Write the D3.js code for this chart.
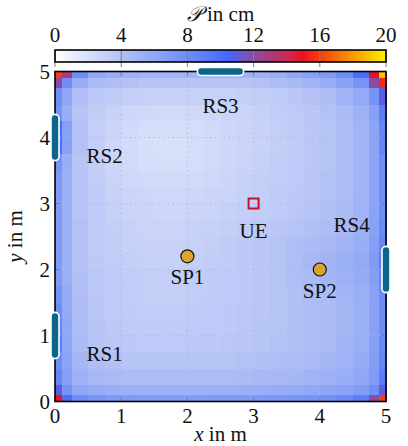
<!DOCTYPE html>
<html><head><meta charset="utf-8">
<script src="https://cdn.jsdelivr.net/npm/d3@7"></script>
<style>body{margin:0;background:#fff}svg{display:block}text{font-family:"Liberation Serif","DejaVu Serif",serif;fill:#111}</style>
</head><body><svg id="c" width="408" height="446"></svg>
<script>
// ---- data ----
const xEdges = [0,0.1,0.25,0.5,0.75,1,1.25,1.5,1.75,2,2.25,2.5,2.75,3,3.25,3.5,3.75,4,4.25,4.5,4.75,4.9,5];
const yEdges = [5,4.9,4.75,4.5,4.25,4,3.75,3.5,3.25,3,2.75,2.5,2.25,2,1.75,1.5,1.25,1,0.75,0.5,0.25,0.1,0];
const field = [
 [16,13,8,6,5.5,5.2,5,5,5,5,5,5,5,5.2,5.5,6,6.5,7,8,10,15,19],
 [12,8,5.5,4.5,4.2,4,3.8,3.8,3.8,3.8,3.8,3.8,3.9,4,4.3,4.6,5,5.5,6.3,7.5,12,15.5],
 [8,6,4.2,3.6,3.3,3.1,3,3,3,3,3,3,3.1,3.2,3.4,3.7,4,4.4,5,5.8,7.5,11],
 [7.5,5.5,3.8,3.2,2.9,2.6,2.5,2.4,2.4,2.5,2.6,2.7,2.8,3,3.2,3.4,3.7,4,4.5,5.2,6.5,9],
 [10,6.5,4,3.1,2.7,2.4,2.2,2.1,2.1,2.2,2.4,2.6,2.7,2.9,3.1,3.3,3.6,3.9,4.3,5,6.2,8.5],
 [10,6.5,4,3.1,2.6,2.3,2.1,2,2,2.2,2.4,2.6,2.7,2.9,3.1,3.3,3.6,3.9,4.3,5,6.2,8.5],
 [7.5,5.5,3.8,3.1,2.7,2.4,2.2,2.1,2.1,2.2,2.4,2.6,2.8,3,3.2,3.4,3.6,3.9,4.3,5,6.2,8],
 [7,5.3,3.8,3.2,2.8,2.5,2.4,2.3,2.3,2.4,2.5,2.7,2.9,3.1,3.2,3.4,3.7,4,4.3,5,6.2,8],
 [7,5.3,3.9,3.3,2.9,2.7,2.6,2.5,2.5,2.6,2.7,2.8,3,3.1,3.3,3.5,3.7,4,4.4,5,6.2,8],
 [7,5.3,3.9,3.3,3,2.8,2.7,2.6,2.6,2.7,2.8,3,3.1,3.2,3.4,3.6,3.8,4.1,4.5,5.1,6.3,8],
 [7,5.3,4,3.4,3.1,2.9,2.8,2.8,2.8,2.9,3,3.1,3.3,3.5,3.7,3.9,4.1,4.4,4.7,5.3,6.4,8.2],
 [7,5.3,4,3.4,3.2,3,2.9,2.9,2.9,3,3.1,3.3,3.5,3.7,3.9,4.2,4.5,4.7,5,5.5,6.6,8.5],
 [7,5.3,4,3.5,3.2,3.1,3,3,3,3.1,3.2,3.3,3.5,3.7,3.9,4.2,4.7,5,5.3,5.8,7,9],
 [7,5.4,4.1,3.6,3.3,3.2,3.1,3.1,3.1,3.2,3.3,3.4,3.5,3.7,3.9,4.2,4.5,4.9,5.2,5.6,6.6,8.5],
 [7.5,5.6,4.2,3.6,3.4,3.2,3.1,3.1,3.1,3.2,3.3,3.4,3.5,3.7,3.9,4.1,4.3,4.5,4.9,5.4,6.4,8],
 [8,5.8,4.3,3.7,3.4,3.3,3.2,3.2,3.2,3.3,3.4,3.5,3.6,3.7,3.9,4.1,4.3,4.5,4.8,5.3,6.4,8],
 [8.5,6,4.4,3.8,3.5,3.4,3.3,3.3,3.3,3.4,3.4,3.5,3.6,3.8,3.9,4.1,4.3,4.5,4.8,5.3,6.4,8],
 [9,6,4.5,3.9,3.6,3.5,3.4,3.4,3.4,3.5,3.5,3.6,3.7,3.8,4,4.1,4.3,4.5,4.9,5.4,6.5,8.2],
 [8,6.2,4.8,4.2,4,3.8,3.8,3.8,3.8,3.8,3.9,3.9,4,4.1,4.2,4.4,4.5,4.8,5.1,5.6,6.7,8.5],
 [8.5,6.6,5.2,4.7,4.5,4.3,4.3,4.3,4.3,4.3,4.4,4.4,4.5,4.6,4.7,4.8,5,5.2,5.5,6,7,9],
 [11,7.5,6,5.6,5.4,5.3,5.2,5.2,5.2,5.2,5.3,5.3,5.4,5.5,5.6,5.7,5.9,6.1,6.4,6.8,7.8,11],
 [15,10,8,7.3,7,6.9,6.8,6.8,6.8,6.8,6.9,6.9,7,7.1,7.2,7.3,7.5,7.8,8.2,9,12,16]
];
const axisTicks = [0,1,2,3,4,5];
const cbTicks = [0,4,8,12,16,20];
const cmapStops = [0,4,8,10.5,12,14,15,16,18,20];
const cmapColors = ["#ffffff","#b3c1f5","#6d8df7","#4466ff","#8c4aa2","#cc2a55","#ee1122","#f43e12","#fa9a00","#ffee00"];
const rsNames = ["RS1","RS2","RS3","RS4"];
const rsX = [0,0,2.5,5];
const rsY = [1,4,5,2];
const rsOrient = ["v","v","h","v"];
const rsLabelX = [0.75,0.75,2.5,4.48];
const rsLabelY = [0.72,3.72,4.48,2.68];
const spNames = ["SP1","SP2"];
const spX = [2,4];
const spY = [2.2,2];
const ueX = 3, ueY = 3;

// ---- layout ----
const FS = 21;
const svg = d3.select("#c");
const L=55, R=386, T=71.5, B=401.5;
const x = d3.scaleLinear().domain([0,5]).range([L,R]);
const y = d3.scaleLinear().domain([0,5]).range([B,T]);
const cmap = d3.scaleLinear().domain(cmapStops).range(cmapColors).clamp(true);

// heatmap
const cells = [];
field.forEach((row,i)=>row.forEach((v,j)=>cells.push({x0:xEdges[j],x1:xEdges[j+1],y0:yEdges[i],y1:yEdges[i+1],v})));
svg.append("g").selectAll("rect").data(cells).join("rect")
  .attr("x",d=>x(d.x0)).attr("width",d=>x(d.x1)-x(d.x0)+0.5)
  .attr("y",d=>y(d.y0)).attr("height",d=>y(d.y1)-y(d.y0)+0.5)
  .attr("fill",d=>cmap(d.v)).attr("shape-rendering","crispEdges");

// grid
const g = svg.append("g");
[1,2,3,4].forEach(v=>{
  g.append("line").attr("x1",x(v)).attr("x2",x(v)).attr("y1",T).attr("y2",B)
    .attr("stroke","#b8b8b8").attr("stroke-width",1).attr("stroke-dasharray","1.2,3.5");
  g.append("line").attr("y1",y(v)).attr("y2",y(v)).attr("x1",L).attr("x2",R)
    .attr("stroke","#b8b8b8").attr("stroke-width",1).attr("stroke-dasharray","1.2,3.5");
});
// inner ticks
axisTicks.forEach(v=>{
  [[x(v),B,x(v),B-5],[x(v),T,x(v),T+5],[L,y(v),L+5,y(v)],[R,y(v),R-5,y(v)]].forEach(c=>
    g.append("line").attr("x1",c[0]).attr("y1",c[1]).attr("x2",c[2]).attr("y2",c[3])
     .attr("stroke","#808080").attr("stroke-width",1));
});
// frame
svg.append("rect").attr("x",L).attr("y",T).attr("width",R-L).attr("height",B-T)
  .attr("fill","none").attr("stroke","#000").attr("stroke-width",1.6);

// tick labels
svg.append("g").selectAll("text").data(axisTicks).join("text")
  .attr("x",d=>x(d)).attr("y",B+21).attr("text-anchor","middle").attr("font-size",FS).text(d=>d);
svg.append("g").selectAll("text").data(axisTicks).join("text")
  .attr("x",L-5).attr("y",d=>y(d)+7).attr("text-anchor","end").attr("font-size",FS).text(d=>d);

// axis titles
const xt = svg.append("text").attr("x",(L+R)/2).attr("y",441).attr("text-anchor","middle").attr("font-size",FS);
xt.append("tspan").attr("font-style","italic").text("x");
xt.append("tspan").text("\u00a0in\u00a0m");
const yt = svg.append("text").attr("transform",`translate(22,${(T+B)/2}) rotate(-90)`).attr("text-anchor","middle").attr("font-size",FS);
yt.append("tspan").attr("font-style","italic").text("y");
yt.append("tspan").text("\u00a0in\u00a0m");

// RS bars
const rsLen = 0.7, rsW = 8;
rsNames.forEach((n,i)=>{
  const h = rsOrient[i]==="h";
  const x0 = h ? x(rsX[i]-rsLen/2) : x(rsX[i])-rsW/2;
  const y0 = h ? y(rsY[i])-rsW/2 : y(rsY[i]+rsLen/2);
  const w = h ? x(rsX[i]+rsLen/2)-x(rsX[i]-rsLen/2) : rsW;
  const hh = h ? rsW : y(rsY[i]-rsLen/2)-y(rsY[i]+rsLen/2);
  svg.append("rect").attr("x",x0).attr("y",y0).attr("width",w).attr("height",hh)
    .attr("rx",4).attr("fill","#0b6689").attr("stroke","#fff").attr("stroke-width",1.6);
  svg.append("text").attr("x",x(rsLabelX[i])).attr("y",y(rsLabelY[i])+7)
    .attr("text-anchor","middle").attr("font-size",FS).text(n);
});

// SPs
spNames.forEach((n,i)=>{
  svg.append("circle").attr("cx",x(spX[i])).attr("cy",y(spY[i])).attr("r",6.5)
    .attr("fill","#daa52c").attr("stroke","#111").attr("stroke-width",1.2);
  svg.append("text").attr("x",x(spX[i])).attr("y",y(spY[i])+28)
    .attr("text-anchor","middle").attr("font-size",FS).text(n);
});
// UE
svg.append("rect").attr("x",x(ueX)-5).attr("y",y(ueY)-5).attr("width",10).attr("height",10)
  .attr("fill","none").attr("stroke","#c8102e").attr("stroke-width",2);
svg.append("text").attr("x",x(ueX)).attr("y",y(ueY)+34).attr("text-anchor","middle").attr("font-size",FS).text("UE");

// colorbar
const cb = d3.scaleLinear().domain([0,20]).range([L,R]);
const CT=50, CB=62;
const grad = svg.append("defs").append("linearGradient").attr("id","cg").attr("x1","0%").attr("x2","100%");
cmapStops.forEach((s,i)=>grad.append("stop").attr("offset",(s/20*100)+"%").attr("stop-color",cmapColors[i]));
svg.append("rect").attr("x",L).attr("y",CT).attr("width",R-L).attr("height",CB-CT).attr("fill","url(#cg)");
cbTicks.forEach(v=>{
  svg.append("line").attr("x1",cb(v)).attr("x2",cb(v)).attr("y1",CT).attr("y2",CB+5)
    .attr("stroke","#808080").attr("stroke-width",1);
});
svg.append("rect").attr("x",L).attr("y",CT).attr("width",R-L).attr("height",CB-CT)
  .attr("fill","none").attr("stroke","#000").attr("stroke-width",1.6);
svg.append("g").selectAll("text").data(cbTicks).join("text")
  .attr("x",d=>cb(d)).attr("y",CT-8).attr("text-anchor","middle").attr("font-size",FS).text(d=>d);
const ct = svg.append("text").attr("x",(L+R)/2).attr("y",21).attr("text-anchor","middle").attr("font-size",FS);
ct.append("tspan").attr("font-style","italic").text("𝒫");
ct.append("tspan").text("\u00a0in\u00a0cm");
</script></body></html>
